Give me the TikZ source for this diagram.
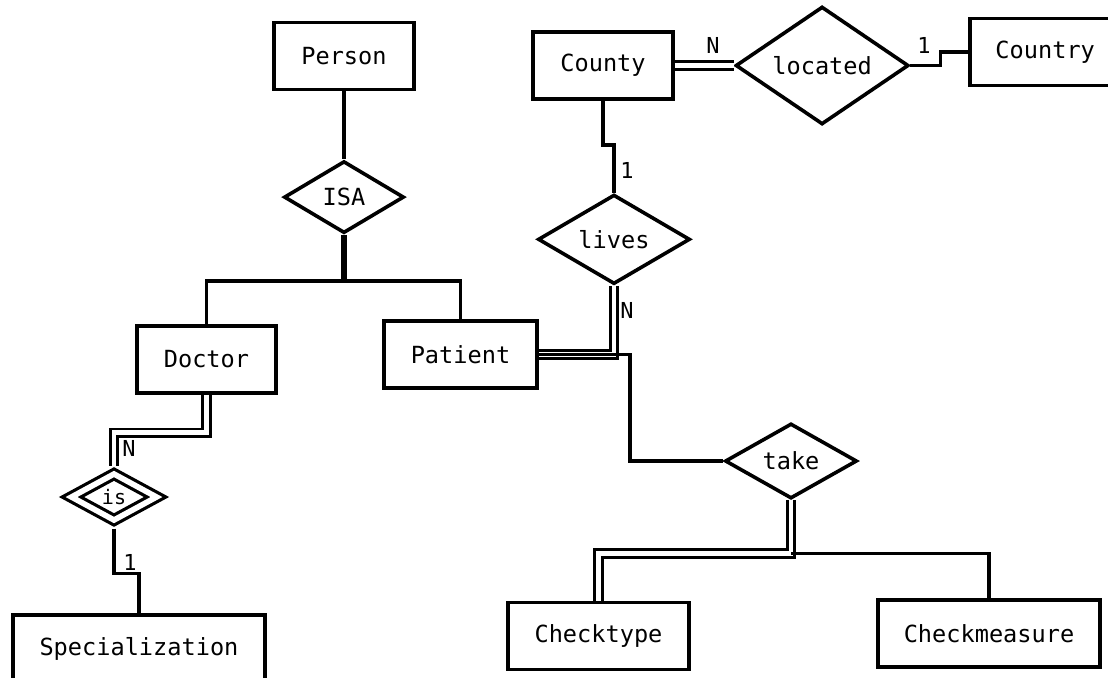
\documentclass[tikz,border=0pt]{standalone}
\usepackage{fontspec}
\setmonofont{DejaVu Sans Mono}
\usetikzlibrary{shapes.geometric,positioning}

\begin{document}
\begin{tikzpicture}[x=0.5pt,y=-0.5pt,line width=1.8pt,
    entity/.style={draw,rectangle,minimum height=33.5pt,inner sep=2pt,font=\ttfamily\fontsize{11.8}{14}\selectfont},
    rel/.style={draw,diamond,inner sep=0pt,font=\ttfamily\fontsize{11.8}{14}\selectfont},
    total/.style={double,line width=1.4pt,double distance=2.4pt},
    card/.style={inner sep=0pt,font=\ttfamily\fontsize{11}{13}\selectfont}]
    \useasboundingbox (0,0) rectangle (1108,677);
    \clip (0,0) rectangle (1108,677);

    \node[entity,minimum width=70pt] (person) at (344,56) {Person};
    \node[rel,minimum width=60pt,minimum height=36pt,below=34pt of person] (isa) {ISA};
    \node[entity,minimum width=69.5pt] (doctor) at (206.5,359.5) {Doctor};
    \node[entity,minimum width=76.5pt] (patient) at (460.5,354.5) {Patient};
    \node[entity,minimum width=70pt] (county) at (603,65.5) {County};
    \node[rel,minimum width=86.5pt,minimum height=52.5pt,right=29.5pt of county] (located) {located};
    \node[entity,minimum width=75pt,right=29pt of located,yshift=6.75pt] (country) {Country};
    \node[rel,minimum width=76pt,minimum height=42.5pt,below=46pt of county,xshift=5.5pt] (lives) {lives};
    \node[rel,minimum width=66pt,minimum height=37.5pt] (take) at (791,461) {take};
    \node[rel,double,double distance=2.8pt,line width=1.6pt,outer sep=3pt,minimum width=45pt,minimum height=25.5pt,font=\ttfamily\fontsize{10}{12}\selectfont] (is) at (114,497) {is};
    \node[entity,minimum width=126pt] (spec) at (139,648.5) {Specialization};
    \node[entity,minimum width=90.5pt] (checktype) at (598.5,636) {Checktype};
    \node[entity,minimum width=111pt] (checkmeasure) at (989,633.5) {Checkmeasure};

    \coordinate[below=23pt of isa] (fork);
    \coordinate[below=26.5pt of take] (tfork);

    \draw (person) -- (isa);
    \draw[line width=2.8pt] (isa) -- (fork);
    \draw (doctor) |- (fork) -| (patient);

    \draw[total] (county.east) -- (located.west);
    \draw (located.east) -- ++(30,0) |- (country.west);
    \draw (county.south) -- ++(0,44) -| (lives.north);
    \draw[total] (lives.south) |- (patient.east);
    \draw (patient.east) -- ++(91,0) |- (take.west);
    \draw[total] (take) -- (tfork) -| (checktype);
    \draw (tfork) -| (checkmeasure);
    \draw[total] (doctor.south) -- ++(0,38) -| (is.north);
    \draw (is.south) -- ++(0,45) -| (spec.north);

    \node[card] (locN) at (713,45) {N};
    \node[card] (loc1) at (924,45) {1};
    \node[card] (liv1) at (627,170) {1};
    \node[card] (livN) at (627,310) {N};
    \node[card] (isN) at (129,448) {N};
    \node[card] (is1) at (130,562) {1};
\end{tikzpicture}
\end{document}
